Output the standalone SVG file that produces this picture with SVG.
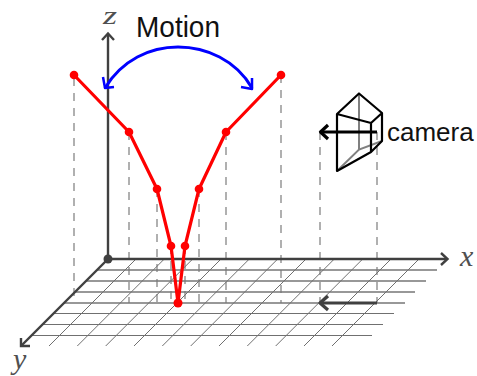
<svg xmlns="http://www.w3.org/2000/svg" width="477" height="376" viewBox="0 0 477 376">
<style>
.grid{stroke:#707070;stroke-width:1;fill:none}
.gridh{stroke:#777;stroke-width:1.4;fill:none}
.dash{stroke:#707070;stroke-width:1.1;stroke-dasharray:8 7;fill:none}
.axis{stroke:#404040;stroke-width:2.4;fill:none}
.red{stroke:#f00;stroke-width:3.2;fill:none;stroke-linejoin:round}
.pt{fill:#f00}
.lab{font-family:"Liberation Sans",Arial,sans-serif;font-size:29px;fill:#111}
.math{font-family:"Liberation Serif",serif;font-style:italic;font-size:30px;fill:#505050}
.cam{stroke:#000;stroke-width:2.2;fill:none;stroke-linejoin:round}
.camg{stroke:#808080;stroke-width:2;fill:none}
</style>
<g id="connectors">
<g id="dashes">
<path class="dash" d="M74 78V298M129 132V303M157 189V303M171 246V303M185 246V303M199 189V303M226 132V303M281 75V303M320 132V303M377 132V303"/>
</g>
<g id="grid">
<path class="gridh" d="M97 270H437M86 281H426M75 292H415M64 303H405"/>
<path class="grid" d="M53 313.500H394M42 324.500H383M31 335.500H372"/>
<path class="grid" d="M136 259L49 346M164.300 259L77.300 346M192.700 259L105.700 346M221 259L134 346M249.300 259L162.300 346M277.700 259L190.700 346M306 259L219 346M334.300 259L247.300 346M362.700 259L275.700 346M391 259L304 346M419 259L332 346"/>
</g>
<g id="axes">
<path class="axis" d="M108 259V34"/>
<path class="axis" d="M102 40L108 33.500L114 40"/>
<path class="axis" d="M108 259H447"/>
<path class="axis" d="M441 253L447.500 259L441 265"/>
<path class="axis" d="M108 259L21 346"/>
<path class="axis" d="M21 338V346H30"/>
</g>
<circle cx="108" cy="259" r="4.500" fill="#404040"/>
<path id="ground-arrow" d="M377 303H322" stroke="#404040" stroke-width="3.200" fill="none"/>
<path d="M328 296L320 303L328 310" stroke="#404040" stroke-width="3.200" fill="none" stroke-linejoin="round"/>
<g id="motion">
<path d="M105 88C122 60 150 47 178 47C206 47 236 60 252 88" fill="none" stroke="#00f" stroke-width="3"/>
<path d="M103 77L105 88L114 87M241 87L252 89L252 78" fill="none" stroke="#00f" stroke-width="2.500" stroke-linejoin="round"/>
</g>
</g>
<g id="object">
<path class="red" d="M74 75L129 132L157 189L171 246L178 303L185 246L199 189L226 132L281 75"/>
<g class="pt">
<circle cx="74" cy="75" r="4.300"/><circle cx="129" cy="132" r="4.300"/><circle cx="157" cy="189" r="4.300"/><circle cx="171" cy="246" r="4.300"/><circle cx="178" cy="303" r="4.500"/><circle cx="185" cy="246" r="4.300"/><circle cx="199" cy="189" r="4.300"/><circle cx="226" cy="132" r="4.300"/><circle cx="281" cy="75" r="4.300"/>
</g>
</g>
<g id="camera">
<path class="camg" d="M359 93V149.500M337 171L359 149.500L382 141"/>
<path class="cam" d="M337 114V171L371 152L382 141V113L359 93.500L337 114L371 123L382 113M371 123V152"/>
<path d="M377 132H322" stroke="#000" stroke-width="3.200" fill="none"/>
<path d="M328 125L320.500 132L328 139" stroke="#000" stroke-width="3.200" fill="none" stroke-linejoin="round"/>
<text class="lab" style="font-size:26px" x="387" y="141">camera</text>
</g>
<text id="motion-label" class="lab" x="136" y="37" textLength="84" lengthAdjust="spacingAndGlyphs">Motion</text>
<text id="z-label" style="font-size:26px" class="math" x="103" y="23.500" textLength="14" lengthAdjust="spacingAndGlyphs">z</text>
<text id="x-label" class="math" x="460" y="266">x</text>
<text id="y-label" class="math" x="13" y="369">y</text>
</svg>
